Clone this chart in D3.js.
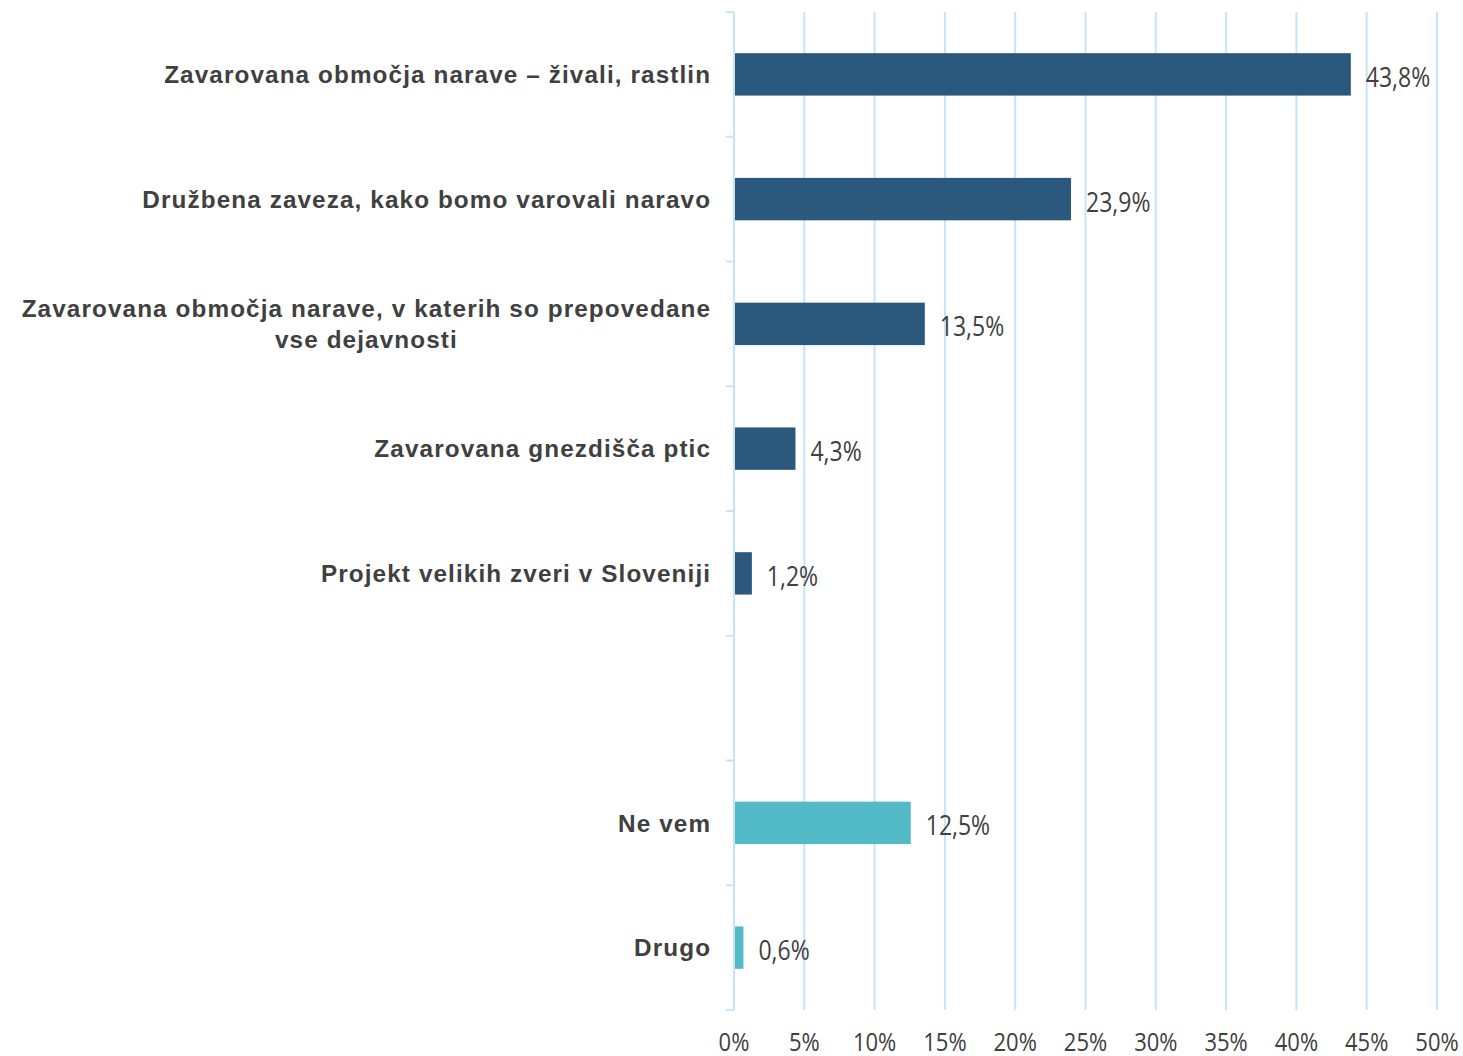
<!DOCTYPE html>
<html>
<head>
<meta charset="utf-8">
<script src="https://cdn.jsdelivr.net/npm/d3@7"></script>
<style>
  body { margin: 0; background: #fff; }
  svg { display: block; }
</style>
</head>
<body>
<div id="chart"></div>
<script>
// data
var categories = [
  'Zavarovana območja narave – živali, rastlin',
  'Družbena zaveza, kako bomo varovali naravo',
  'Zavarovana območja narave, v katerih so prepovedane|vse dejavnosti',
  'Zavarovana gnezdišča ptic',
  'Projekt velikih zveri v Sloveniji',
  '',
  'Ne vem',
  'Drugo'
];
var values = [43.8, 23.9, 13.5, 4.3, 1.2, null, 12.5, 0.6];
var groups = ['main', 'main', 'main', 'main', 'main', 'none', 'other', 'other'];
var xTicks = [0, 5, 10, 15, 20, 25, 30, 35, 40, 45, 50];

var W = 1463, H = 1056;
var plotLeft = 734, plotRight = 1437, plotTop = 12, plotBottom = 1010;
var stretch = 1.16; // number labels look stretched vertically
var colors = { main: '#2b597e', other: '#53bac8' };
var gridColor = '#c7e3fa';
var textColor = '#404040';
var labelSpacing = 1.1;

var svg = d3.select('#chart').append('svg')
  .attr('width', W).attr('height', H);

var keys = categories.map(function(c, i) { return i; });

var x = d3.scaleLinear().domain([0, 50]).range([plotLeft, plotRight]);
var y = d3.scaleBand().domain(keys).range([plotTop, plotBottom])
  .paddingInner(0.66).paddingOuter(0.33);

// grid lines
svg.append('g').selectAll('line')
  .data(xTicks.filter(function(t) { return t > 0; })).enter()
  .append('line')
  .attr('x1', function(t) { return x(t); })
  .attr('x2', function(t) { return x(t); })
  .attr('y1', plotTop).attr('y2', plotBottom)
  .attr('stroke', gridColor).attr('stroke-width', 2);

// y axis line + ticks at band boundaries
var step = y.step();
svg.append('line')
  .attr('x1', x(0)).attr('x2', x(0)).attr('y1', plotTop).attr('y2', plotBottom)
  .attr('stroke', gridColor).attr('stroke-width', 2);
svg.append('g').selectAll('line')
  .data(d3.range(keys.length + 1)).enter()
  .append('line')
  .attr('x1', x(0) - 8).attr('x2', x(0))
  .attr('y1', function(i) { return plotTop + i * step; })
  .attr('y2', function(i) { return plotTop + i * step; })
  .attr('stroke', gridColor).attr('stroke-width', 2);

// bars
var rows = keys.filter(function(i) { return values[i] != null; });
svg.append('g').selectAll('rect')
  .data(rows).enter()
  .append('rect')
  .attr('x', x(0) + 1)
  .attr('y', function(i) { return y(i); })
  .attr('width', function(i) { return x(values[i]) - x(0); })
  .attr('height', y.bandwidth())
  .attr('fill', function(i) { return colors[groups[i]]; });

// value labels
svg.append('g').selectAll('text')
  .data(rows).enter()
  .append('text')
  .attr('transform', function(i) {
    return 'translate(' + (x(values[i]) + 16) + ',' + (y(i) + y.bandwidth() / 2 + 3) + ') scale(1,' + stretch + ')';
  })
  .attr('dy', '0.36em')
  .attr('font-family', '"Open Sans", sans-serif')
  .attr('font-size', 23)
  .attr('fill', textColor)
  .text(function(i) { return values[i].toFixed(1).replace('.', ',') + '%'; });

// category labels
var catG = svg.append('g');
keys.forEach(function(i) {
  if (!categories[i]) return;
  var lines = categories[i].split('|');
  var cy = y(i) + y.bandwidth() / 2;
  var lh = 31;
  var g = catG.append('g');
  var texts = lines.map(function(line, k) {
    return g.append('text')
      .attr('x', 710 + labelSpacing)
      .attr('y', cy + (k - (lines.length - 1) / 2) * lh)
      .attr('dy', '0.36em')
      .attr('text-anchor', 'end')
      .attr('font-family', 'Arial, "Liberation Sans", sans-serif')
      .attr('font-weight', 'bold')
      .attr('font-size', 24.3)
      .attr('letter-spacing', labelSpacing)
      .attr('fill', textColor)
      .text(line);
  });
  if (lines.length > 1) {
    // centre the lines inside a right-aligned block
    var widths = texts.map(function(t) { return t.node().getComputedTextLength(); });
    var maxW = d3.max(widths);
    texts.forEach(function(t, k) {
      t.attr('x', 710 + labelSpacing - (maxW - widths[k]) / 2);
    });
  }
});

// x tick labels
svg.append('g').selectAll('text')
  .data(xTicks).enter()
  .append('text')
  .attr('transform', function(t) { return 'translate(' + x(t) + ',1042) scale(1,' + stretch + ')'; })
  .attr('dy', '0.36em')
  .attr('text-anchor', 'middle')
  .attr('font-family', '"Open Sans", sans-serif')
  .attr('font-size', 22)
  .attr('fill', textColor)
  .text(function(t) { return t + '%'; });
</script>
</body>
</html>
